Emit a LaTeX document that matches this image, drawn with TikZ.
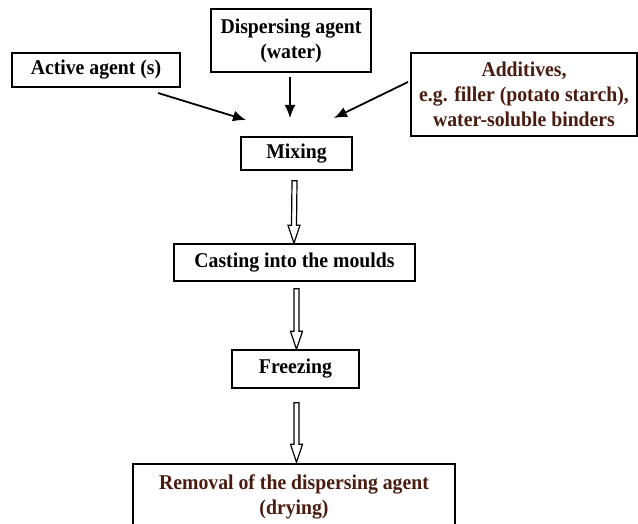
\documentclass[tikz,border=0pt]{standalone}
\usepackage{fontspec}
\setmainfont{Liberation Serif}[FakeStretch=0.94]
\usetikzlibrary{calc,arrows.meta}

\definecolor{brownink}{HTML}{4A1C10}

\tikzset{
  box/.style={draw, line width=1.6pt, align=center, inner sep=0pt,
    font=\bfseries\fontsize{21}{25}\selectfont},
  feed/.style={line width=1.8pt, -{Latex[length=13pt,width=11pt]}},
  hollow/.style={line width=1.2pt, fill=white, line join=miter},
}

% open block arrow from #1 down to #2
\newcommand{\hollowarrow}[2]{%
  \draw [hollow] ($(#1)+(-2.5,0)$) -- ($(#2)+(-2.5,-18)$) -- ($(#2)+(-6,-18)$)
    -- (#2) -- ($(#2)+(6,-18)$) -- ($(#2)+(2.5,-18)$) -- ($(#1)+(2.5,0)$) -- cycle;}

\begin{document}
\begin{tikzpicture}[x=1pt, y=-1pt]

    \useasboundingbox (0,0) rectangle (638,524);
    \clip (0,0) rectangle (638,524);

    % inputs
    \node [box, minimum width=168pt, minimum height=34pt] (active) at (96,70) {Active agent (s)};
    \node [box, minimum width=160pt, minimum height=63pt] (disp) at (291,40.5) {Dispersing agent\\(water)};
    \node [box, minimum width=226pt, minimum height=83pt, text=brownink] (add) at (524,94.5)
      {Additives,\\e.g. filler (potato starch),\\water-soluble binders};

    % process steps
    \node [box, minimum width=111pt, minimum height=33pt] (mix) at (296.5,153.5) {Mixing};
    \node [box, minimum width=241pt, minimum height=37pt] (cast) at (294.5,262.5) {Casting into the moulds};
    \node [box, minimum width=127pt, minimum height=38pt] (freeze) at (295.5,369) {Freezing};
    \node [box, minimum width=322pt, minimum height=66pt, text=brownink] (dry) at (294,497)
      {Removal of the dispersing agent\\(drying)};

    % feeds into mixing
    \coordinate (activeout) at (158,93);
    \coordinate (activein) at (246,120);
    \coordinate (dispout) at ($(disp.south)+(-1,4)$);
    \coordinate (dispin) at (290,118);
    \coordinate (addout) at (408,82);
    \coordinate (addin) at (334,118);
    \draw [feed] (activeout) -- (activein);
    \draw [feed] (dispout) -- (dispin);
    \draw [feed] (addout) -- (addin);

    % steps
    \coordinate (mixout) at ($(mix.south)+(-2,10)$);
    \coordinate (castout) at ($(cast.south)+(2,7)$);
    \coordinate (freezeout) at ($(freeze.south)+(1,14)$);
    \hollowarrow{mixout}{$(cast.north)+(-0.5,0)$}
    \hollowarrow{castout}{$(freeze.north)+(1,0)$}
    \hollowarrow{freezeout}{$(dry.north)+(2.5,-1)$}

\end{tikzpicture}
\end{document}
